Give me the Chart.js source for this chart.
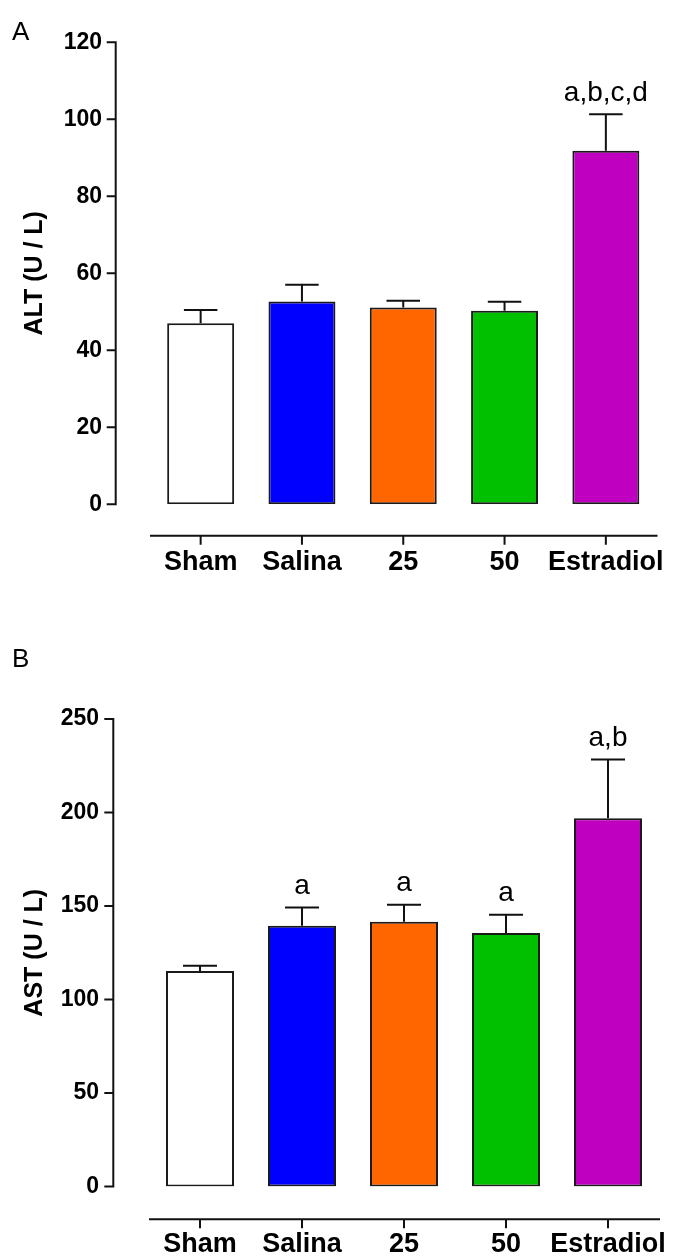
<!DOCTYPE html>
<html><head><meta charset="utf-8">
<script src="https://cdn.jsdelivr.net/npm/chart.js@4.4.0/dist/chart.umd.min.js"></script>
<style>
html,body{margin:0;padding:0;background:#fff;}
#wrap{position:relative;width:697px;height:1257px;overflow:hidden;background:#fff;}
canvas{position:absolute;left:0;}
.panel{position:absolute;font-family:"Liberation Sans",Arial,sans-serif;font-size:26px;color:#000;}
</style></head><body>
<div id="wrap">
<canvas id="cA" width="697" height="620" style="top:0"></canvas>
<canvas id="cB" width="697" height="637" style="top:620px"></canvas>
<div class="panel" style="left:12px;top:16px">A</div>
<div class="panel" style="left:12px;top:643px">B</div>
</div>
<script>
const categories = ['Sham', 'Salina', '25', '50', 'Estradiol'];
const barColors = ['#FFFFFF', '#0000FF', '#FF6600', '#00C000', '#C000C0'];

const altMeans = [47.0, 52.7, 51.1, 50.3, 91.8];
const altErrors = [3.5, 4.3, 1.8, 2.3, 9.5];
const altLetters = ['', '', '', '', 'a,b,c,d'];
const altTicks = [0, 20, 40, 60, 80, 100, 120];

const astMeans = [115.3, 139.5, 141.6, 135.5, 196.9];
const astErrors = [2.8, 9.7, 9.1, 9.8, 31.4];
const astLetters = ['', 'a', 'a', 'a', 'a,b'];
const astTicks = [0, 50, 100, 150, 200, 250];

const FONT = '"Liberation Sans", Arial, sans-serif';

const gpPlugin = {
  id: 'gp',
  afterDatasetsDraw(chart, args, opts) {
    const {ctx, scales: {y}} = chart;
    const meta = chart.getDatasetMeta(0);
    const ds = chart.data.datasets[0];
    ctx.save();
    ctx.strokeStyle = '#111';
    ctx.lineWidth = 2;
    ctx.fillStyle = '#000';
    ctx.font = '28px ' + FONT;
    ctx.textAlign = 'center';
    ctx.textBaseline = 'alphabetic';
    meta.data.forEach((bar, i) => {
      const v = ds.data[i], e = opts.errors[i];
      const yTop = y.getPixelForValue(v + e);
      const yBar = y.getPixelForValue(v);
      const half = bar.width / 4;
      ctx.beginPath();
      ctx.moveTo(bar.x, yBar); ctx.lineTo(bar.x, yTop);
      ctx.moveTo(bar.x - half, yTop); ctx.lineTo(bar.x + half, yTop);
      ctx.stroke();
      if (opts.letters[i]) ctx.fillText(opts.letters[i], bar.x, yTop - 13.7);
    });
    ctx.restore();
  },
  afterDraw(chart, args, opts) {
    const {ctx, chartArea, scales: {x, y}} = chart;
    ctx.save();
    ctx.strokeStyle = '#111';
    ctx.lineWidth = 2;
    const ax = chartArea.left - opts.yGap;
    const t0 = y.getPixelForValue(y.min), t1 = y.getPixelForValue(y.max);
    ctx.beginPath();
    ctx.moveTo(ax, t1 - 1); ctx.lineTo(ax, t0 + 1);
    y.ticks.forEach(t => {
      const py = y.getPixelForValue(t.value);
      ctx.moveTo(ax - 9, py); ctx.lineTo(ax, py);
    });
    ctx.stroke();
    const ay = chartArea.bottom + opts.xGap;
    ctx.beginPath();
    ctx.moveTo(chartArea.left, ay); ctx.lineTo(chartArea.right + 1, ay);
    x.ticks.forEach((t, i) => {
      const px = x.getPixelForTick(i);
      ctx.moveTo(px, ay); ctx.lineTo(px, ay + 9);
    });
    ctx.stroke();
    ctx.restore();
  }
};

function makeChart(id, means, errors, letters, ticks, title, geo) {
  return new Chart(document.getElementById(id), {
    type: 'bar',
    data: {
      labels: categories,
      datasets: [{
        data: means,
        backgroundColor: barColors,
        borderColor: '#1a1a1a',
        borderWidth: 2,
        borderSkipped: false,
        barPercentage: geo.barPct,
        categoryPercentage: 1
      }]
    },
    options: {
      responsive: false,
      animation: false,
      devicePixelRatio: 1,
      layout: {padding: {left: 0, top: geo.top, right: geo.right, bottom: 0}},
      plugins: {
        legend: {display: false},
        tooltip: {enabled: false},
        gp: {errors: errors, letters: letters, yGap: geo.yGap, xGap: geo.xGap}
      },
      scales: {
        x: {
          grid: {display: false, drawTicks: false},
          border: {display: false},
          ticks: {color: '#000', font: {family: FONT, size: 27, weight: 'bold'}, padding: 42, maxRotation: 0, minRotation: 0, autoSkip: false},
          afterFit(s) { s.height = geo.xH; s.paddingLeft = 0; s.paddingRight = 0; }
        },
        y: {
          min: ticks[0],
          max: ticks[ticks.length - 1],
          grid: {display: false, drawTicks: false},
          border: {display: false},
          ticks: {color: '#000', font: {family: FONT, size: 23, weight: 'bold'}, padding: geo.yPad},
          afterBuildTicks(s) { s.ticks = ticks.map(v => ({value: v})); },
          title: {display: true, text: title, color: '#000', font: {family: FONT, size: 25, weight: 'bold'}, padding: {top: 20, bottom: 0}},
          afterFit(s) { s.width = geo.yW; s.paddingTop = 0; s.paddingBottom = 0; }
        }
      }
    },
    plugins: [gpPlugin]
  });
}

makeChart('cA', altMeans, altErrors, altLetters, altTicks, 'ALT (U / L)',
  {top: 42.3, right: 40.5, xH: 115.7, yW: 150, barPct: 0.661, yGap: 34.3, xGap: 31.4, yPad: 48});
makeChart('cB', astMeans, astErrors, astLetters, astTicks, 'AST (U / L)',
  {top: 99, right: 38, xH: 70.5, yW: 149, barPct: 0.667, yGap: 35.7, xGap: 32.8, yPad: 50});
</script>
</body></html>
